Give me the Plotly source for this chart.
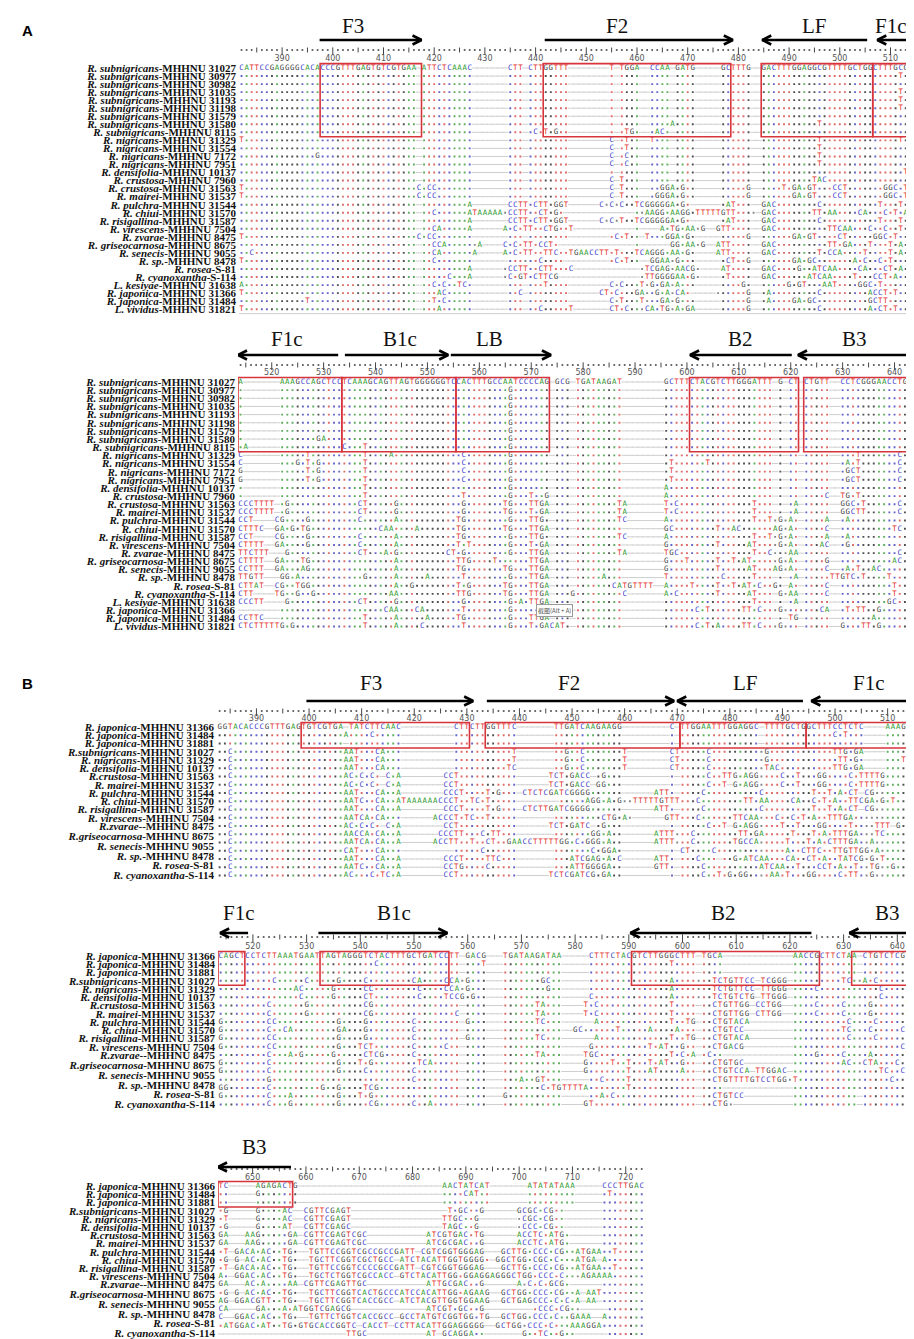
import plotly.graph_objects as go

W, H = 914, 1339

# ---------------------------------------------------------------- data
NAMES_A = [
    ("R. subnigricans", "MHHNU 31027"), ("R. subnigricans", "MHHNU 30977"),
    ("R. subnigricans", "MHHNU 30982"), ("R. subnigricans", "MHHNU 31035"),
    ("R. subnigricans", "MHHNU 31193"), ("R. subnigricans", "MHHNU 31198"),
    ("R. subnigricans", "MHHNU 31579"), ("R. subnigricans", "MHHNU 31580"),
    ("R. subnigricans", "MHHNU 8115"), ("R. nigricans", "MHHNU 31329"),
    ("R. nigricans", "MHHNU 31554"), ("R. nigricans", "MHHNU 7172"),
    ("R. nigricans", "MHHNU 7951"), ("R. densifolia", "MHHNU 10137"),
    ("R. crustosa", "MHHNU 7960"), ("R. crustosa", "MHHNU 31563"),
    ("R. mairei", "MHHNU 31537"), ("R. pulchra", "MHHNU 31544"),
    ("R. chiui", "MHHNU 31570"), ("R. risigallina", "MHHNU 31587"),
    ("R. virescens", "MHHNU 7504"), ("R. zvarae", "MHHNU 8475"),
    ("R. griseocarnosa", "MHHNU 8675"), ("R. senecis", "MHHNU 9055"),
    ("R. sp.", "MHHNU 8478"), ("R. rosea", "S-81"),
    ("R. cyanoxantha", "S-114"), ("L. kesiyae", "MHHNU 31638"),
    ("R. japonica", "MHHNU 31366"), ("R. japonica", "MHHNU 31484"),
    ("L. vividus", "MHHNU 31821"),
]

NAMES_B = [
    ("R. japonica", "MHHNU 31366"), ("R. japonica", "MHHNU 31484"),
    ("R. japonica", "MHHNU 31881"), ("R.subnigricans", "MHHNU 31027"),
    ("R. nigricans", "MHHNU 31329"), ("R. densifolia", "MHHNU 10137"),
    ("R.crustosa", "MHHNU 31563"), ("R. mairei", "MHHNU 31537"),
    ("R. pulchra", "MHHNU 31544"), ("R. chiui", "MHHNU 31570"),
    ("R. risigallina", "MHHNU 31587"), ("R. virescens", "MHHNU 7504"),
    ("R.zvarae", "-MHHNU 8475"), ("R.griseocarnosa", "MHHNU 8675"),
    ("R. senecis", "MHHNU 9055"), ("R. sp.", "MHHNU 8478"),
    ("R. rosea", "S-81"), ("R. cyanoxantha", "S-114"),
]

# alignment rows, written in chunks that end on multiples of ten
SEQ_A1 = [
    "CATTCCGA GGGGCACACC CGTTTGAGTG TCGTGAA-AT TCTCAAAC-- -----CTT-C TTGGTTT--- -----T-TGG A--CCAA-GA TG-----GCT TTG--GACTT TGGAGGCGTT TTGCTGGCTT TGCGG",
    "........ .......... .......... .......-.. ........-- -----...-. .......--- -----.-... .--....-.. ..-----... ...--..... .......... .......... ..T..",
    "........ .......... .......... .......-.. ........-- -----...-. .......--- -----.-... .--....-.. ..-----... ...--..... .......... .......... .....",
    "........ .......... .......... .......-.. ........-- -----...-. .......--- -----.-... .--....-.. ..-----... ...--..... .......... .......... ..T..",
    "........ .......... .......... .......-.. ........-- -----...-. .......--- -----.-... .--....-.. ..-----... ...--..... .......... .......... ..T..",
    "........ .......... .......... .......-.. ........-- -----...-. .......--- -----.-... .--....-.. ..-----... ...--..... .......... .......... ..T..",
    "........ .......... .......... .......-.. ........-- -----...-. .......--- -----.-... .--....-.. ..-----... ...--..... .......... .......... .....",
    "........ .......... .......... .......-.. ........-- -----...-. .......--- -----.-... .--....A.. ..-----... ...--..... ......T... .......... .....",
    "........ .......... .......... .......-.. ........-- -----...-. C.T.G..--- -----.-.TG .--.AC.-.. ..-----... ...--..... .......... .......... .....",
    "T....... .......... .......... .......-.. ........-- -----...-. .......--- -----C-.T. .--T...-.. ..-----... ...--..... ......T... .......... ..T..",
    "........ .......... .......... .......-.. ........-- -----...-. .......--- -----C-.T. .--....-.. ..-----... ...--..... ......T... .......... ....A",
    "........ .......G.. .......... .......-.. ........-- -----...-. .......--- -----C-.C. .--....-.. ..-----... ...--..... ......T... .......... ....A",
    "........ .......... .......... .......-.. ........-- -----...-. .......--- -----C-.C. .--....-.. ..-----... ...--..... ......T... .......... ....A",
    "........ .......... .......... .......-.. ........-- -----...-. .......--- -----.-... .--....-.. ..-----... ...--..... .......... .......... ...T.",
    "........ .......... .......... .......-.. ........-- -----...-. .......--- -----C-T.. .--....-.. ..-----... ...--..... .....TAC.. .......... .....",
    "T....... .......... .......... .......C.C C.......-- -----...-. .......--- -----C-T.. .--..GGA.G ..-----... ..G--....T .GA.GT...C CT.......G GC.T.",
    "T....... .......... .......... .......C.C C.......-- -----...-. .......--- -----C-T.. .--.GGGA.G ..-----... ..G--..... .GA.GT...C CT.......G GC.T.",
    "........ .......... .......... .......-.. .......A-- -----CCTT. CTT.GGT--- ---C.C.C.. TCGGGGGA.G .------.AT ...--GAC.. ......C... ........T. ..T.A",
    "........ .......... .......... .......-.. C......ATA AAAA.CCTT. .CT.G.---- ---------- ..AAGG.AAG G.TTTTTGTT ....-GAC.. .....TT.AA ....CA...C .T.A.",
    "........ .......... .......... .......-.. .......A-- -----CCTT. CTT.GGT--- ---C.C.T.. TCGGGGGA.G .------.AT ...--GAC.. ......C... ........T. ..T.A",
    "........ .......... .......... .......-.. CA.....A-- ----A.C.TT ..CTG..T-- ---------- .----A.TG. AA.G--GTT. ...--GAC.. ........TT CAA...C..C ..T.A",
    "T....... .......... .......... .......C.C C.......-- -----...-. .......--- -----.C.T. .-T...GGA. G.-----... ..G--..... .GA.GT.... CT.....GGC .T...",
    "........ .......... .......... .......-.. CCA......A ----C.C.TT .CCT.----- ---------- .------GG. AA.G--ATT. ...--GAC.. ........TT .GA...T... T.A..",
    "..C..... .......... .......... .......-.. CA......A- ----A.C.TT ..TTC..TGA ACCTT.T... TCAGGG.AA. G.----ATT. ...--GAC.. ......T.CC A....T.... T.A..",
    "T....... .......... .......... .......-.. C.......-- -----..... .C....---- -----.C.T. .--GGAA.G. ..-----.CT ..G--..... .GA.GC.... ...A.C..C. T....",
    "........ .......... .......... .......-.. .......A-- ----.CCTT. .CTT...C-- ---------- -.TCGAG.AA CG.----AT. ...--GAC.. ..G..ATCAA ....CA...C T.A..",
    "........ .......... .......... .......-.. ...C...A-- ----.C.GT. CTTCG----- ---------- -.TTGGGGAA .G.----.T. ...--GAC.. ....ATCAA. ...T...CCT .A...",
    "A....... .......... .......... .......-.. C.C..TC.-- -----...-. ..T....--- -----C.C.. .T.G.GA.A. ..-----... .G.--..... G.GT...AAT ....GGC.T. .....",
    "T....... .......... .......... .......-.. .AC.....-- -----..C-. .......--- ---CT.C... GA..G.A.CA .-----.... ..G--.A... ......C... ......ACCT .T...",
    "........ .....T.... .......... .......-.. T.C.....-- -----...-. .......--- -----C.T.. .T...GA.G. ..-----... ..G--.A... .GA.GC.... ......GCTT .....",
    "T....... .......... .......... .......-.. .A......-- -----...-. .C.....T-- -----CT.C. ..CA.TG.A. GA-----... ..G--..... ......C... ......A.CT .T...",
]

SEQ_A2 = [
    "A----- --AAAGCCAG CTCCTCAAAG CAGTTAGTGG GGGGTCCACT TTGCCAATCC CCAG-GCG-T GATAAGAT-- ------GCTT TCTACGTCTT GGGATTT-G- CT-CTGTT-- CCTCGGGAAC CTGCG",
    ".----- --........ .......... .......... .......... ......G... ....-...-. ........-- ------.... .......... .......-.- ..-.....-- .......... .....",
    ".----- --........ .......... .......... .......... ......G... ....-...-. ........-- ------.... .......... .......-.- ..-.....-- .......... .....",
    ".----- --........ .......... .......... .......... ......G... ....-...-. ........-- ------.... .......... .......-.- ..-.....-- .......... .....",
    ".----- --........ .......... .......... .......... ......G... ....-...-. ........-- ------.... .......... .......-.- ..-.....-- .......... .....",
    ".----- --........ .......... .......... .......... ......G... ....-...-. ........-- ------.... .......... .......-.- ..-.....-- .......... .....",
    ".----- --........ .......... .......... .......... ......G... ....-...-. ........-- ------.... .......... .......-.- ..-.....-- .......... .....",
    ".----- --.......G A......... .......... .......... ......G... ....-...-. ........-- ------.... .......... .......-.- ..-.....-- .......... .....",
    ".A---- --........ ....C...T. .......... .......... ......G... ....-...-. ........-- ------.... .......... .......-.- ..-.....-- .......... .....",
    "C----- --.....T.. ........T. ...A...... .......C.. ......G... ....-...-. ........-- ------.... .......... .......-.- ..-.....-- ...T...... .C...",
    "C----- --...G.T.G ........T. .......... .......C.. ......G... ....-...-. ........-- ------.T.. ....T..... .......-.- ..-.....-- .A.T...... .C...",
    "G----- --.....T.G ........T. .......... .......C.. ......G... ....-...-. ........-- ------.T.. .......... .......-.- ..-.....-- .GCT...... .C...",
    "G----- --.....T.G ........T. .......... .......C.. ......G... ....-...-. ........-- ------.T.. .......... .......-.- ..-.....-- .GCT...... .C...",
    ".----- --........ ........T. .......... .......... ......G... ....-...-. ........-- ------A... .......... .......-.- ..-.....-- .......... .....",
    ".----- --........ ........T. .......... .......T.. ......G... T..G-...-. ........-- ------A... .......... .......-.- ..-....C-- TG.T...... .....",
    "CCCTTT T-.G...... .......CT. ....G..... .......G.. .....TG... TTGA-...-. .......TA- ------T.C. .......... ...T...-.- .A-.....-- GGC.T..... .C...",
    "CCCTTT T-.G...... .......CT. ....G..... .......G.. .....TG... T.GA-...-. .......TA- ------T.C. .......... ...T...-.- .A-.....-- GGCTT..... .C...",
    "CCT--- -CG....G.. .......C.. ....A..... ......TG.. ......G... TTG.-...-. .......TC- ------A... .......... ...T..T.G. A.-....A-- .A........ .....",
    "CTTTC- -GA.G.TG.. .......... .CAA....A. ......TG.. .....TG... TTGA-...-. ........-- ------GC.. ......T..A C......AG. A.-....C-- .......... TC...",
    "CCT--- -CG....G.. .......C.. ....A..... ......TG.. ......G... TTG.-...-. .......TC- ------A... .......... ...T..T.G. A.-....A-- .A........ .....",
    "CTTTT- -GA....G.. .......C.. ....A..... ......T.T. ......G... T.GA-...-. ........-- ------G... ......T... ..AT....G. A.-...AC-- .G........ .....",
    "TTCTTT ---G...... .......CT. ..A.G..... ....CT.G.. ......G... TTGA-...-. .......TA- ------TGC. .......... ...T..C... AA-.....-- .......... .C...",
    "CTTTT- -GA...TG.. .......... ....A..... ......TTG. ...T...... TTGA-...-. ........-- ------G... T.....T..T .AT.....G. A.-....G-- .......... AC...",
    "CCTTT- -GA...AG.. .......... ....A..... ......TG.. .....TG... TTGA-...-. ........-- ------G... ......T... ..AT...AG. A.-....C-- .A.T..AC.. .....",
    "TTGTT- --GG.A.... ........G. ....A..... A......T.. ......G... TTGA-...-. ....A...-- ------T... .......C.. ...T...-.- .A-.....TT GTC.T....T .....",
    "CTTAT- -CG..TGG.. .......... ....A..G.. ......T.G. .....TG... TTGA-...-. ......CATG TTTT--A... .T....T..T .AT.C..G.- A.-....C-- .......... T....",
    "CTT--- -TG..G..G. .......... ...AA..... ......TTG. .....TG... TTGA-...G. ........C- ------A.C. ......T... ..AT...-G. AA-....C-- .......... T....",
    "CCCTT- ---G...... .......CT. ....G..... .......G.. ......G.A. TTGA-...-. ........-- ------.... .......... ...T...-.- .A-.....-- .........G C....",
    "------ --........ .......... ..CAA...CA .......T.. ......G... ....-...-. ........-- ------.... ..C.T..... .TT.C...G. ......CA-- .T.TT..G.. .....",
    "CCTTC- --........ ........T. ....A..... A.....TG.. ......G... TTGA-...-. ........-- ------.... .......... .......-.- TG-.....-- ......A... .....",
    "CTCTTT TTG.G..... ........T. ....A....C .......T.. ......G... T.GACAT.-. ........-- ------.... ..C.T.A... .TT.C...G. ..-.....-- G...TT.G.. .....",
]

SEQ_B1 = [
    "GGTACAC CCGTTTGAGT GTCGTGA-TA TCTTCAAC-- --------CT TCTTGGTTTC -------TTG ATCAAGAAGG ---------C -TTGGAATTT GGAGGC-TTT TGCTGGCTTT CCTCTC---- AAAGCC",
    "....... .......... .......A.. ..C.....-- --------.. .......... -------... .......... ---------. -......... ......-... .......... C.T...---- ......",
    "....... .......... .......-.. ........-- --------.. .......... -------... .......... ---------. -......... ......-... .......... ......---- ......",
    "..C.... .......... .......AAT ...CA...-- --------.. .........T -------..G ..C....... T--------C T.....C... .......G.. .......... TTG.GA---- ......",
    "..C.... .......... .......AAT ...CA...-- --------.. .........T -------..G ..C....... T--------C T.....C... .......G.. .......... .TT.G.---- ...T..",
    "..C.... .......... .......AAT ...CA...-- --------.. ........TC -------..G ..C....... T--------C T.....C... .......TAC .......... TTG.GA---- ......",
    "..C.... .......... .......AC. C.C.-C.A-- ------CCT. .......... ------TCT. GACC-.G... ---------. -.....C..T TG.AGG.... C..T...GG. ...C.TTTTG ......",
    "..C.... .......... .......AC. C.C.-C.A-- ------CCT. .......... ------TCT. GACC-GG... ---------. -.....C..T -G.AGG.... C..T...GG. ...C.TTTTG ......",
    "..C.... .......... .......AAT ...CA..A-- ------CCCT ....T.G... -CTCTCGATC GGGG...... ------ATT. -....C.... ......C... ......T..T .A.CT-CG.. ......",
    "..C.... .......... .......AAT C..CA..ATA AAAAACCCT. .TC.T..... --------.. ...AGG.A.G ..TTTTTGTT T...C..... ...TT.AA.. ..CA..C.T. A..TTCGA.G .T....",
    "..C.... .......... .......AAT ...CA..A-- ------CCCT ....T.G... -CTCTTGATC GGGG...... ------ATT. -....C.... ......C... ......T..T .A.CT-CG.. ......",
    "..C.... .......... .......AAT CA.CA...-- ----ACCCT. TC..T..... -------... ......CTG. A.------GT T...C..... .TTCAA...C ..C.T.A..T TTGA...... ......",
    "..C.... .......... .......AC. C.C.-C.A-- ------CCT. .......... ------TCT. GATC-.G... ---------. -.....C..T -G.AGG.... T..T...GG. ...T....TT T-G...",
    "..C.... .......... .......AAC CA.CA..A-- -----CCCTT ...C.TT... -------... ....GG.A.. ------ATTT ...C...... ..TT.GA... ..T...T.A. TTTGA...TC ......",
    "..C.... .......... .......AAT CA.CA..A-- ----ACCTT. .T..CT..GA ACCTTTTTGG .C.GGG.A.. ------ATTT ...C...... .TGCCA.... .T...T.A.C TTTGA..A.. ......",
    "..C.... .......... .......CAT ...CA...-- --------.. ...C...... -------... ....C.GGA. ---------. -CT....C.. .......... .A..CTTC.. TTGTTGG.A. ......",
    "..C.... .......... .......AAT ...CA..A-- ------CCCT ....TTC... -------... ATCGAG.A.C ------ATT. -...C...-. .G.ATCAA.. .CA..CT.A. .TATCG.G.T ......",
    "..C.... .......... .......AAT C..CA..A-- ------CCTG ....C..... -------... ATTGGGGA.. ------GTT. -....C.... ......ATCA A..T...CCT .A..T..TG. .G....",
    "..C.... .......... .......AC. ..C.TC.A-- ------CCT. .......... ------TCTC GATCG.GA.. ---------. -....C..T. G.GG....AA .T...GG... .C.TT..G.. ......",
]

SEQ_B2 = [
    "CAGCTC CTCTTAAATG AATTAGTAGG GTCTACTTTG CTGATCCTT- GACG---TGA TAAGATAA-- ---CTTTCTA CGTCTTGGGC TTT-TGCA-- ---------- -AACCGCTTC TAA-CTGTCT CGTC",
    "...... .......... .......... ...C...... .........- ...T---... ........-- ---....... ........T. ...-....-- ---------- -......... ...-...... ....",
    "...... .......... .......... .......... .........- ....---... ........-- ---....... .......... ...-....-- ---------- -......... ...-...... ....",
    "...... ....C..... C.....G... .C........ CA....CCA. G...---... ....GC..-- ---....... ........A. ......TCTG TTCC-TCGGG -......... TC..A.C... ....",
    "...... ........AC .....G.... .CC....... .C....CCA. G...---... .....G..-- ---....... ........A. ......TCTG TTCC-TTGGG -....C.... .......C.. ....",
    "...... .........C .....G.... .CT....... .C....TCCG .G..---... ........-- ---C...... ........A. ......TCTG TCTG-TTGGG -......... .......C.. ...A",
    "...... ...C...... G......... .CG....... .........- ....---... ...TA...-- --T.C..... ........T. ...-..CTGT TGG-CCTGG- -....C.... C....G.... ..TC",
    "...... ...C...... G......... .CG....... ........C- ....---... ...TA...-- --T.C..... ........T. ...-..CTGT TGG-CTTGG- -....C.... C....G.... ..TC",
    "G..... ...CC..... ......G... .G........ C........- G...---... ...TC...-- ----A..... ........T. .TG-..CTGT ACA------- -......... .C....C... ...A",
    "G..... ...C..CA.. ......GA.. .G........ C........- ....---... ........-- GC......T. ....A....A ...-..CTGT CC-------- -......... TC...C.... .C.A",
    "G..... ...CC..... ......G... .G........ C........- G...---... ...TC...-- ----A..... ........T. .TG-..CTGT ACA------- -......... .C....C... ...A",
    "G..... ...CC..... ......G... TCT....... C.....C..- ....---... ........-- ---G...... ....T.AT.. G..-..CTGA CG-------- -......... .......... .C.C",
    "...... ...C...A.G .....G.... .CTCG..... C........- ....---... ...TA...-- --TGC..... ........T. C.A-.C..-- ---------- -....G.... C....A.... ..TT",
    "G..... ...C...... ......G... T.G....... .TCA.....- ....---... ........-- --G....T.. T...T.AT.. G..-..CTGT GC-------- -......... AC..CTA... C..A",
    "G..... ...C...... ......G... .C........ C........- ....---... ........-- --G....... T...AT.... A..-..CTGT CCA-TTGGAC -......... .......TC. .C.A",
    "...... ...G...... .......... .......... C........- ....---... A..GT...-- ---..C.... T......... ...-..CTGT TTTGTCCTGG .T........ .........C ...T",
    "GG.... ...C...... ...G..G... .TCG...... .........- ....---... ....C.TGTT TTA....... T......... ...-....-- ---------- -......... .......... ....",
    "G..... ...C...A.. ......G... T.G....... .........- ....---G.. ........-- ---..A.C.. .......... ...-..CTGT CC-------- -......... ...-...... ....",
    "...... ...C...G.. ......G... ..CG...... C..A.....- ....---... ........-- --GT...... .......... ...-..CTG. ---------- -......... ...-...... ....",
]

SEQ_B3 = [
    "TC---- -AGAGACTG- ---------- ---------- ------AACT ATCAT----- --ATATATAA A-----CCCT TGAC",
    "..---- -G.......- ---------- ---------- ------.... CAT..----- --........ .-----.T.. ....",
    "..---- -........- ---------- ---------- ------.... .....----- --........ .-----.... ....",
    ".G---- -G....AC-- CGTTCGAGT- ---------- -------T.G C..G------ GCGC.CG..- ------.... ....",
    ".T---- -G....AC-- CGTTCGAGT- ---------- ------TTGC ..G------- .CGC.CG..- ------.... ....",
    ".G---- -G....AT-- CGTTCGAGC- ---------- ------TAGC ..G------- .CCC.CG..- ------.... ....",
    "GA---A AG.....GA- CGTTCGAGTC GC-------- ---ATCGTGA C.TG------ ACCTC.ATG. ------.... ....",
    "GA---A AG.....GA- CGTTCGAGTC GC-------- ---ATCGCGA C..G------ ACCTC.ATG. ------.... ....",
    ".T-GAC A.AC..TG.- -TGTTCCGGT CGCCGCCGAT T-CGTCGGTG GGAG---GCT TG.CCC.CG. .ATGAA..T. ....",
    ".G-G-A C.AC..TG.- -TGCTTCGGT CGCTGCC-AT CTACATTGGT GGGG.-GGCT GG.CGC.C.. .ATGA-A... ....",
    ".T-GAC A.AC..TG.- -TGTTCCGGT CCCCGCCGAT T-CGTCGGTG GGAG---GCT TG.CCC.CG. .ATGAA..T. ....",
    "A.-GGA C.AC..TG.- -TGCTCTGGT CGCCACC-GT CTACATTGG. GGAGGAGGGC TGG.CCC.C. ..AGAAAA.. ....",
    "GA---A C.A....AA- CGTTCGAGTT GC-------- ---ATTGCGA C..G------ A.C.C.GCG. ------.... ....",
    ".G-G-A C.AC..TG.- -TGCTTCGGT CACTGCCCAT CCACATTGG. AGAAG--GCT GG.CCC.CG. .A-AAT.... ....",
    "AG-GGA CGTT..TG.- -TGCTTCGGT CACCGCC-AT CTACGTTGGT GGAAG--GCT GAGCCC.C.C .A-AA-.... ....",
    "CA---- -GA...A.AT GGTCGAGCG- ---------- ---ATCGT.G C..G------ ---.CCC.CG ..-----... ....",
    "C--GGA C.AC..TG.- -TGTTCTGGT CACCGCC-GC CTATGTCGGT GG.TG--GCT GG.CCC.C.. GAAA--A... ....",
    ".ATGGA C.AT..TG.G TGCACCGGTC -CACCT-CCT TACATTGGAG GGGG--GCTG G.CCC.C... AAAGGA.... ....",
    "------ ---------- --------TT GC-------- ---AT-GCAG GA..------ -G..TC..G. .------... ....",
]

TICKS_A1 = list(range(390, 511, 10))
TICKS_A2 = list(range(520, 641, 10))
TICKS_B1 = list(range(390, 511, 10))
TICKS_B2 = list(range(520, 641, 10))
TICKS_B3 = list(range(650, 721, 10))

# primer arrows: name, from column, to column, direction, label column
PRIMERS_A1 = [("F3", 397.4, 417.5, 1, 404), ("F2", 441.8, 478.9, 1, 456),
              ("LF", 484.7, 505.4, -1, 495), ("F1c", 507.4, 514.4, -1, 510)]
PRIMERS_A2 = [("F1c", 513.5, 532.8, -1, 523), ("B1c", 534.1, 554.0, 1, 544.7),
              ("LB", 554.5, 573.8, 1, 561.9), ("B2", 600.6, 620.2, -1, 610.4),
              ("B3", 621.4, 643.0, -1, 632.2)]
PRIMERS_B1 = [("F3", 399.5, 431.2, 1, 411.7), ("F2", 433.8, 469.4, 1, 449.5),
              ("LF", 470.0, 493.9, -1, 483), ("F1c", 495.5, 515.5, -1, 506.5)]
PRIMERS_B2 = [("F1c", 513.9, 519.1, -1, 517.4), ("B1c", 532.2, 556.2, 1, 546.3),
              ("B2", 590.3, 624.0, -1, 607.7), ("B3", 631.1, 643.6, -1, 638.2)]
PRIMERS_B3 = [("B3", 643.5, 657.2, -1, 650.3)]

# red boxes: first and last column
BOXES_A1 = [(398, 417), (442, 478), (485, 506), (507, 514)]
BOXES_A2 = [(514, 533), (534, 555), (556, 573), (601, 621), (623, 643)]
BOXES_B1 = [(399, 430), (434, 470), (471, 494), (495, 515)]
BOXES_B2 = [(514, 518), (533, 556), (591, 625), (632, 643)]
BOXES_B3 = [(644, 657)]

NAME_ROWS_B = [1, 2, 3, 4, 5, 6, 7, 8, 9, 10, 11, 12, 13, 14.2, 15.4, 16.6, 17.7, 18.9]

# ---------------------------------------------------------------- styles
BASE_COLORS = {"A": "#2e9b2e", "C": "#3a3acc", "G": "#3c3c3c", "T": "#e2302b"}
DOT_COLORS = {"A": "#5fae5f", "C": "#6464c8", "G": "#505050", "T": "#dd6a66"}
RED = "#d8343c"
SERIF = "Liberation Serif"

BLOCKS = [
    dict(seqs=SEQ_A1, names=NAMES_A, name_rows=None, c0=382, sizes=[8] + [10] * 12 + [5],
         x0=231, w=5.07, y1=60, rh=8.04, offs=(42, 28, 18, 9), ticks=TICKS_A1,
         primers=PRIMERS_A1, boxes=BOXES_A1, box_rows=9, bottom_line=True),
    dict(seqs=SEQ_A2, names=NAMES_A, name_rows=None, c0=514, sizes=[6] + [10] * 12 + [5],
         x0=230, w=5.19, y1=374, rh=8.15, offs=(43, 27, 17, 9), ticks=TICKS_A2,
         primers=PRIMERS_A2, boxes=BOXES_A2, box_rows=9, bottom_line=False),
    dict(seqs=SEQ_B1, names=NAMES_B, name_rows=NAME_ROWS_B, c0=383, sizes=[7] + [10] * 12 + [6],
         x0=209, w=5.26, y1=719, rh=8.25, offs=(44, 26, 16, 8), ticks=TICKS_B1,
         primers=PRIMERS_B1, boxes=BOXES_B1, box_rows=3, bottom_line=False),
    dict(seqs=SEQ_B2, names=NAMES_B, name_rows=NAME_ROWS_B, c0=514, sizes=[6] + [10] * 12 + [4],
         x0=210, w=5.37, y1=948, rh=8.25, offs=(43, 23, 19, 9), ticks=TICKS_B2,
         primers=PRIMERS_B2, boxes=BOXES_B2, box_rows=4, bottom_line=False),
    dict(seqs=SEQ_B3, names=NAMES_B, name_rows=NAME_ROWS_B, c0=644, sizes=[6] + [10] * 7 + [4],
         x0=210, w=5.33, y1=1178, rh=8.22, offs=(39, 19, 17, 8), ticks=TICKS_B3,
         primers=PRIMERS_B3, boxes=BOXES_B3, box_rows=3, bottom_line=False),
]


def expand(row, sizes):
    parts = row.split()
    out = ""
    for i, n in enumerate(sizes):
        part = parts[i] if i < len(parts) else ""
        out += part[:n].ljust(n, ".")
    return out


fig = go.Figure()
shapes, annotations = [], []
layout = {}

for i, b in enumerate(BLOCKS):
    sfx = "" if i == 0 else str(i + 1)
    xr, yr = "x" + sfx, "y" + sfx
    rows = [expand(r, b["sizes"]) for r in b["seqs"]]
    ncols = sum(b["sizes"])
    n = len(rows)
    c0, w, rh, y1 = b["c0"], b["w"], b["rh"], b["y1"]
    lab_off, arr_off, rul_off, num_off = b["offs"]
    c_last = c0 + ncols - 0.5

    def row_of(px_above):
        return 1 - px_above / rh

    top_px = y1 - lab_off - 16
    bot_px = y1 + (n - 1) * rh + rh / 2 + 3
    r_top = 1 + (top_px - y1) / rh
    r_bot = 1 + (bot_px - y1) / rh

    layout["xaxis" + sfx] = dict(domain=[b["x0"] / W, (b["x0"] + ncols * w) / W],
                                 range=[c0 - 0.5, c_last], anchor=yr,
                                 visible=False, fixedrange=True)
    name_rows = b["name_rows"] or list(range(1, len(b["names"]) + 1))
    ticktext = ["<b><i>%s</i>-%s</b>" % (sp, v) for sp, v in b["names"]]
    layout["yaxis" + sfx] = dict(domain=[1 - bot_px / H, 1 - top_px / H],
                                 range=[r_bot, r_top], anchor=xr,
                                 tickmode="array", tickvals=name_rows, ticktext=ticktext,
                                 ticks="", showgrid=False, zeroline=False, showline=False,
                                 automargin=False, ticklabelstandoff=2,
                                 tickfont=dict(family=SERIF, size=11, color="#111"),
                                 fixedrange=True)

    ref = rows[0]
    gx, gy, dx, dy, dc, lx, ly, lt, lc = [], [], [], [], [], [], [], [], []
    for r, s in enumerate(rows, start=1):
        for j, ch in enumerate(s):
            col = c0 + j
            if ch == "-":
                gx.append(col); gy.append(r)
            elif ch == ".":
                dx.append(col); dy.append(r)
                dc.append(DOT_COLORS.get(ref[j], "#888888"))
            else:
                lx.append(col); ly.append(r); lt.append(ch)
                lc.append(BASE_COLORS.get(ch, "#333333"))

    fig.add_trace(go.Scatter(x=gx, y=gy, mode="markers", xaxis=xr, yaxis=yr,
                             marker=dict(symbol="line-ew", size=4.5,
                                         line=dict(width=1, color="#cfcfcf")),
                             hoverinfo="skip", showlegend=False))
    fig.add_trace(go.Scatter(x=dx, y=dy, mode="markers", xaxis=xr, yaxis=yr,
                             marker=dict(symbol="square", size=1.9, color=dc, line=dict(width=0)),
                             hoverinfo="skip", showlegend=False))
    fig.add_trace(go.Scatter(x=lx, y=ly, mode="text", text=lt, xaxis=xr, yaxis=yr,
                             textfont=dict(family="DejaVu Sans Mono", size=7.4, color=lc),
                             hoverinfo="skip", showlegend=False))

    # ruler
    cols = list(range(c0, c0 + ncols))
    rr = row_of(rul_off)
    plain = [c for c in cols if c % 5]
    fig.add_trace(go.Scatter(x=plain, y=[rr] * len(plain),
                             mode="markers", xaxis=xr, yaxis=yr,
                             marker=dict(symbol="square", size=1.7, color="#333", line=dict(width=0)),
                             hoverinfo="skip", showlegend=False))
    five = [c for c in cols if c % 5 == 0 and c % 10]
    ten = [c for c in cols if c % 10 == 0]
    fig.add_trace(go.Scatter(x=five, y=[rr] * len(five), mode="markers", xaxis=xr, yaxis=yr,
                             marker=dict(symbol="line-ns", size=3.5, line=dict(width=1, color="#444")),
                             hoverinfo="skip", showlegend=False))
    fig.add_trace(go.Scatter(x=ten, y=[rr + 0.15] * len(ten), mode="markers", xaxis=xr, yaxis=yr,
                             marker=dict(symbol="line-ns", size=5.5, line=dict(width=1, color="#444")),
                             hoverinfo="skip", showlegend=False))
    fig.add_trace(go.Scatter(x=b["ticks"], y=[row_of(num_off)] * len(b["ticks"]), mode="text",
                             text=[str(t) for t in b["ticks"]], xaxis=xr, yaxis=yr,
                             textfont=dict(family="DejaVu Sans", size=8, color="#555"),
                             hoverinfo="skip", showlegend=False))

    # primer arrows and their names
    ar = row_of(arr_off)
    hl, hh = 9 / w, 4.5 / rh
    ax, ay = [], []
    for name, a, z, d, lcol in b["primers"]:
        tip, tail = (z, a) if d > 0 else (a, z)
        back = tip - hl * d
        ax += [tail, tip, None, back, tip, back, None]
        ay += [ar, ar, None, ar - hh, ar, ar + hh, None]
        half = 18 / w  # keep the label inside the picture at the right edge
        if lcol + half > c_last:
            annotations.append(dict(x=c_last - 1, y=row_of(lab_off), xref=xr, yref=yr, text=name,
                                    showarrow=False, xanchor="right",
                                    font=dict(family=SERIF, size=21, color="#111")))
        else:
            annotations.append(dict(x=lcol, y=row_of(lab_off), xref=xr, yref=yr, text=name,
                                    showarrow=False, font=dict(family=SERIF, size=21, color="#111")))
    fig.add_trace(go.Scatter(x=ax, y=ay, mode="lines", xaxis=xr, yaxis=yr,
                             line=dict(color="black", width=2.6), hoverinfo="skip",
                             showlegend=False, cliponaxis=False))

    for s0, s1 in b["boxes"]:
        shapes.append(dict(type="rect", xref=xr, yref=yr, x0=s0 - 0.5, x1=s1 + 0.5,
                           y0=0.45, y1=b["box_rows"] + 0.55, line=dict(color=RED, width=1.6)))

    shapes.append(dict(type="line", xref=xr, yref=yr, x0=c0 - 0.6, x1=c0 - 0.6,
                       y0=rr - 0.4, y1=n + 0.55, line=dict(color="#bcbcbc", width=1)))
    if b["bottom_line"]:
        shapes.append(dict(type="line", xref=xr, yref=yr, x0=c0 - 0.6, x1=c_last,
                           y0=n + 0.55, y1=n + 0.55, line=dict(color="#cfcfcf", width=1)))

# screenshot tooltip left in the original picture
annotations.append(dict(x=574.5, y=29.0, xref="x2", yref="y2", text="截图(Alt + A)",
                        showarrow=False, bgcolor="white", bordercolor="#9a9a9a", borderwidth=1,
                        borderpad=1, font=dict(family="Noto Sans CJK SC", size=6, color="#555")))

annotations.append(dict(x=12 / W, y=1 - 22 / H, xref="paper", yref="paper", text="<b>A</b>",
                        showarrow=False, xanchor="left", yanchor="middle",
                        font=dict(family="Liberation Sans", size=15, color="black")))
annotations.append(dict(x=12 / W, y=1 - 675 / H, xref="paper", yref="paper", text="<b>B</b>",
                        showarrow=False, xanchor="left", yanchor="middle",
                        font=dict(family="Liberation Sans", size=15, color="black")))

fig.update_layout(width=W, height=H, margin=dict(l=0, r=0, t=0, b=0),
                  paper_bgcolor="white", plot_bgcolor="white",
                  shapes=shapes, annotations=annotations, showlegend=False, **layout)

fig.write_html("out.html")
